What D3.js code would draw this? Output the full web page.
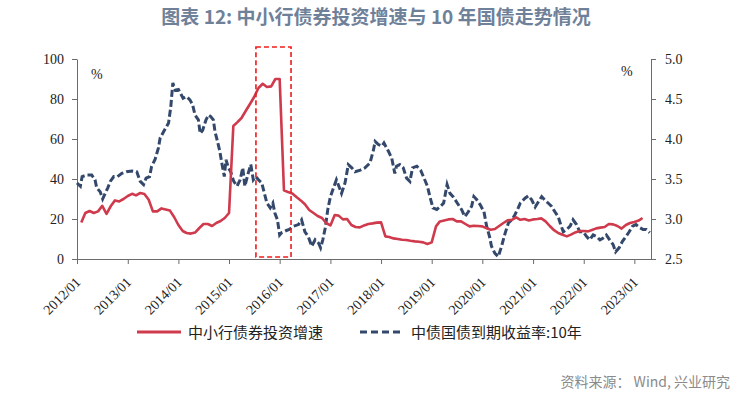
<!DOCTYPE html>
<html>
<head>
<meta charset="utf-8">
<script src="https://cdn.jsdelivr.net/npm/d3@7/dist/d3.min.js"></script>
<style>
  body { margin: 0; background: #fff; }
  .axis path, .axis line { stroke: #6b6b6b; }
  .serif { font-family: "Liberation Serif", "DejaVu Serif", serif; font-size: 14px; fill: #222; }
  .legend-text { font-family: "Noto Sans CJK SC", sans-serif; font-size: 15px; fill: #222; }
</style>
</head>
<body>
<svg id="chart"></svg>
<script>
// 中小行债券投资增速 (%), monthly from 2012/02
const growthStart = "2012-02";
const growthValues = [
  18.3, 23, 24, 23, 23.8, 26.6, 22.6, 26.5, 29.3, 28.8, 30,
  31.5, 32.6, 31.8, 33, 32.5, 29.6, 23.8, 23.8, 25.3, 24.8, 24.2, 21,
  17, 14, 13, 12.7, 13.2, 15.5, 17.5, 17.5, 16.5, 18, 19, 20.5,
  23, 66.5, 68.3, 70.5, 74, 77.5, 81, 85.5, 87.6, 86, 86.3, 90,
  90, 34.3, 33.5, 32.8, 31, 29.3, 27.4, 24.5, 23, 21.5, 20.5, 18,
  16.8, 22, 21.7, 19.8, 20, 17, 16, 15.8, 16.8, 17.5, 17.8, 18.2,
  18.3, 11.3, 11, 10.3, 10, 9.6, 9.5, 9.1, 8.8, 8.6, 8.3, 7.5,
  8.3, 16.3, 18.8, 19.3, 19.8, 20, 18.8, 18.8, 17.5, 16.3, 16.6, 16.5,
  16.3, 15.4, 14.6, 15, 16.5, 18, 19.3, 19.6, 20.8, 19.6, 20, 19.3,
  19.8, 20, 20.3, 18.8, 16.5, 14.4, 13, 12.1, 11.3, 12.2, 13.3, 14,
  14, 13.8, 14.5, 15.3, 15.7, 16, 17.5, 17.3, 16.5, 15.2, 17, 18,
  18.5, 19.2, 20.5
];

// 中债国债到期收益率:10年 (%)
const yield10y = [
  ["2012-01-01",3.45],["2012-01-25",3.41],["2012-02-07",3.53],["2012-03-13",3.55],["2012-04-16",3.55],
  ["2012-05-10",3.49],["2012-05-22",3.39],["2012-06-16",3.34],["2012-07-04",3.25],["2012-07-22",3.32],
  ["2012-08-10",3.39],["2012-08-28",3.47],["2012-09-22",3.53],["2012-10-19",3.53],["2012-11-19",3.57],
  ["2012-12-22",3.59],["2013-02-01",3.60],["2013-03-07",3.59],["2013-04-01",3.47],["2013-04-25",3.43],
  ["2013-05-13",3.51],["2013-06-07",3.53],["2013-06-22",3.66],["2013-07-16",3.74],["2013-08-10",3.89],
  ["2013-08-22",4.01],["2013-09-16",4.09],["2013-10-22",4.20],["2013-11-07",4.40],["2013-11-22",4.70],
  ["2013-12-10",4.61],["2014-01-01",4.62],["2014-01-16",4.57],["2014-02-04",4.51],["2014-03-01",4.53],
  ["2014-03-25",4.49],["2014-04-13",4.43],["2014-05-01",4.30],["2014-05-25",4.24],["2014-06-07",4.07],
  ["2014-06-25",4.11],["2014-07-19",4.24],["2014-08-07",4.30],["2014-08-22",4.28],["2014-09-10",4.24],
  ["2014-09-22",4.09],["2014-10-04",4.01],["2014-10-25",3.86],["2014-11-10",3.70],["2014-11-28",3.53],
  ["2014-12-10",3.74],["2014-12-28",3.64],["2015-01-13",3.59],["2015-02-04",3.47],["2015-02-28",3.41],
  ["2015-03-22",3.49],["2015-04-10",3.64],["2015-04-25",3.41],["2015-05-19",3.57],["2015-06-07",3.68],
  ["2015-06-25",3.49],["2015-07-13",3.53],["2015-08-01",3.49],["2015-08-25",3.45],["2015-09-10",3.34],
  ["2015-10-01",3.20],["2015-10-25",3.14],["2015-11-13",3.20],["2015-11-28",3.07],["2015-12-16",2.99],
  ["2016-01-01",2.80],["2016-01-16",2.83],["2016-02-10",2.85],["2016-03-10",2.87],["2016-04-10",2.91],
  ["2016-05-16",2.93],["2016-06-07",2.99],["2016-07-01",2.84],["2016-07-25",2.78],["2016-08-19",2.66],
  ["2016-09-13",2.74],["2016-10-07",2.70],["2016-10-22",2.64],["2016-11-07",2.74],["2016-11-25",2.89],
  ["2016-12-13",3.12],["2017-01-01",3.28],["2017-01-19",3.37],["2017-02-13",3.49],["2017-03-07",3.39],
  ["2017-03-22",3.32],["2017-04-16",3.45],["2017-05-10",3.68],["2017-06-04",3.64],["2017-06-28",3.59],
  ["2017-08-04",3.61],["2017-09-07",3.64],["2017-10-13",3.70],["2017-11-07",3.86],["2017-11-19",3.97],
  ["2017-12-13",3.93],["2018-01-07",3.91],["2018-01-22",3.95],["2018-02-25",3.84],["2018-03-19",3.76],
  ["2018-04-10",3.57],["2018-04-22",3.66],["2018-05-16",3.68],["2018-06-10",3.64],["2018-07-04",3.51],
  ["2018-07-28",3.47],["2018-08-16",3.64],["2018-09-16",3.66],["2018-10-13",3.61],["2018-11-07",3.51],
  ["2018-12-01",3.41],["2018-12-19",3.28],["2019-01-10",3.14],["2019-02-07",3.12],["2019-03-07",3.16],
  ["2019-03-28",3.20],["2019-04-22",3.43],["2019-05-13",3.32],["2019-06-04",3.28],["2019-07-04",3.20],
  ["2019-08-04",3.12],["2019-08-28",3.03],["2019-09-22",3.09],["2019-10-16",3.16],["2019-11-01",3.28],
  ["2019-11-22",3.24],["2019-12-16",3.18],["2020-01-13",3.09],["2020-02-01",2.91],["2020-02-22",2.78],
  ["2020-03-07",2.66],["2020-04-01",2.57],["2020-04-25",2.53],["2020-05-19",2.66],["2020-06-13",2.82],
  ["2020-07-07",2.95],["2020-08-01",2.99],["2020-08-22",3.05],["2020-09-16",3.14],["2020-10-01",3.20],
  ["2020-11-04",3.26],["2020-11-28",3.29],["2020-12-22",3.24],["2021-01-16",3.15],["2021-02-10",3.22],
  ["2021-03-04",3.28],["2021-03-25",3.24],["2021-04-19",3.20],["2021-05-13",3.16],["2021-06-07",3.09],
  ["2021-07-01",3.03],["2021-07-19",2.93],["2021-08-07",2.84],["2021-09-01",2.87],["2021-09-25",2.91],
  ["2021-10-16",2.99],["2021-11-10",2.93],["2021-12-04",2.84],["2021-12-28",2.84],["2022-01-22",2.78],
  ["2022-02-13",2.74],["2022-03-10",2.80],["2022-04-04",2.78],["2022-04-28",2.74],["2022-05-19",2.76],
  ["2022-06-13",2.80],["2022-07-07",2.74],["2022-08-01",2.68],["2022-08-19",2.59],["2022-09-13",2.64],
  ["2022-10-07",2.72],["2022-11-01",2.78],["2022-11-25",2.84],["2022-12-19",2.91],["2023-01-13",2.93],
  ["2023-02-10",2.89],["2023-03-04",2.87],["2023-03-28",2.87],["2023-04-22",2.83]
];

const xDomain = ["2012-01-01", "2023-05-01"];
const leftTicks = [0, 20, 40, 60, 80, 100];
const rightTicks = [2.5, 3.0, 3.5, 4.0, 4.5, 5.0];
// dashed highlight box: dates and left-axis values
const highlightDates = ["2015-07-14", "2016-03-23"];
const highlightValues = [1, 106];

const seriesNames = ["中小行债券投资增速", "中债国债到期收益率:10年"];
const titleText = "图表 12: 中小行债券投资增速与 10 年国债走势情况";
const sourceText = "资料来源： Wind, 兴业研究";

class DualAxisChart {
  constructor(_config) {
    this.config = {
      parentElement: _config.parentElement,
      containerWidth: 734,
      containerHeight: 393,
      margin: { top: 59, right: 83, bottom: 134, left: 77 },
      redColor: "#cf3a4c",
      blueColor: "#33486b"
    };
    this.initVis();
  }

  initVis() {
    let vis = this;
    const parse = d3.timeParse("%Y-%m-%d");
    vis.width = vis.config.containerWidth - vis.config.margin.left - vis.config.margin.right;
    vis.height = vis.config.containerHeight - vis.config.margin.top - vis.config.margin.bottom;

    vis.growth = growthValues.map((v, i) =>
      ({ date: d3.timeMonth.offset(d3.timeParse("%Y-%m")(growthStart), i), value: v }));
    vis.yields = yield10y.map(d => ({ date: parse(d[0]), value: d[1] }));

    vis.xScale = d3.scaleTime().domain(xDomain.map(parse)).range([0, vis.width]);
    vis.yLeft = d3.scaleLinear().domain([0, 100]).range([vis.height, 0]);
    vis.yRight = d3.scaleLinear().domain([2.5, 5.0]).range([vis.height, 0]);

    vis.svg = d3.select(vis.config.parentElement)
        .attr('width', vis.config.containerWidth)
        .attr('height', vis.config.containerHeight);

    vis.chart = vis.svg.append('g')
        .attr('transform', `translate(${vis.config.margin.left},${vis.config.margin.top})`);

    // title
    vis.svg.append('text')
        .attr('x', 376)
        .attr('y', 24)
        .attr('text-anchor', 'middle')
        .style('font-family', '"Noto Sans CJK SC", sans-serif')
        .style('font-size', '19px')
        .style('font-weight', 'bold')
        .style('fill', '#6f8199')
        .text(titleText);

    vis.renderVis();
  }

  renderVis() {
    let vis = this;
    const parse = d3.timeParse("%Y-%m-%d");

    // axes
    vis.chart.append('g')
        .attr('class', 'axis y-left')
        .call(d3.axisLeft(vis.yLeft).tickValues(leftTicks).tickSize(5).tickSizeOuter(0).tickPadding(8));

    vis.chart.append('g')
        .attr('class', 'axis y-right')
        .attr('transform', `translate(${vis.width},0)`)
        .call(d3.axisRight(vis.yRight).tickValues(rightTicks).tickSize(5).tickSizeOuter(0)
          .tickPadding(9).tickFormat(d3.format('.1f')));

    const xAxisG = vis.chart.append('g')
        .attr('class', 'axis x-axis')
        .attr('transform', `translate(0,${vis.height})`)
        .call(d3.axisBottom(vis.xScale).ticks(d3.timeYear.every(1))
          .tickFormat(d3.timeFormat('%Y/%m')).tickSize(5).tickSizeOuter(0));

    xAxisG.selectAll('text')
        .attr('text-anchor', 'end')
        .attr('dy', 0)
        .attr('y', 0)
        .attr('transform', 'translate(4,24) rotate(-45)');

    // drop the axis' sans-serif default so the serif class applies
    vis.svg.selectAll('.axis').attr('font-family', null).attr('font-size', null);
    vis.svg.selectAll('.axis text').attr('class', 'serif');

    // % labels
    vis.chart.append('text')
        .attr('class', 'serif')
        .attr('x', 14).attr('y', 20)
        .text('%');
    vis.chart.append('text')
        .attr('class', 'serif')
        .attr('x', vis.width - 30).attr('y', 17)
        .text('%');

    // lines
    const blueLine = d3.line()
        .x(d => vis.xScale(d.date))
        .y(d => vis.yRight(Math.max(2.5, d.value)));
    vis.chart.append('path')
        .datum(vis.yields)
        .attr('fill', 'none')
        .attr('stroke', vis.config.blueColor)
        .attr('stroke-width', 3)
        .attr('stroke-dasharray', '7,3')
        .attr('d', blueLine);

    const redLine = d3.line()
        .x(d => vis.xScale(d.date))
        .y(d => vis.yLeft(d.value));
    vis.chart.append('path')
        .datum(vis.growth)
        .attr('fill', 'none')
        .attr('stroke', vis.config.redColor)
        .attr('stroke-width', 2.6)
        .attr('stroke-linejoin', 'round')
        .attr('d', redLine);

    // highlight box
    const hx = highlightDates.map(d => vis.xScale(parse(d)));
    const hy = highlightValues.map(v => vis.yLeft(v));
    vis.chart.append('rect')
        .attr('x', hx[0])
        .attr('y', hy[1])
        .attr('width', hx[1] - hx[0])
        .attr('height', hy[0] - hy[1])
        .attr('fill', 'none')
        .attr('stroke', '#ee1c1c')
        .attr('stroke-width', 1.6)
        .attr('stroke-dasharray', '5,3');

    // legend
    const legend = vis.svg.append('g').attr('class', 'legend');
    const items = [
      { x: 137, color: vis.config.redColor, dash: null, name: seriesNames[0] },
      { x: 360, color: vis.config.blueColor, dash: '7,4', name: seriesNames[1] }
    ];
    items.forEach(it => {
      legend.append('line')
          .attr('x1', it.x).attr('x2', it.x + 44)
          .attr('y1', 332).attr('y2', 332)
          .attr('stroke', it.color)
          .attr('stroke-width', 3)
          .attr('stroke-dasharray', it.dash);
      legend.append('text')
          .attr('class', 'legend-text')
          .attr('x', it.x + 51)
          .attr('y', 338)
          .text(it.name);
    });

    // source
    vis.svg.append('text')
        .attr('x', 730)
        .attr('y', 387)
        .attr('text-anchor', 'end')
        .style('font-family', '"Noto Sans CJK SC", sans-serif')
        .style('font-size', '14px')
        .style('fill', '#8a8a8a')
        .text(sourceText);
  }
}

new DualAxisChart({ parentElement: '#chart' });
</script>
</body>
</html>
